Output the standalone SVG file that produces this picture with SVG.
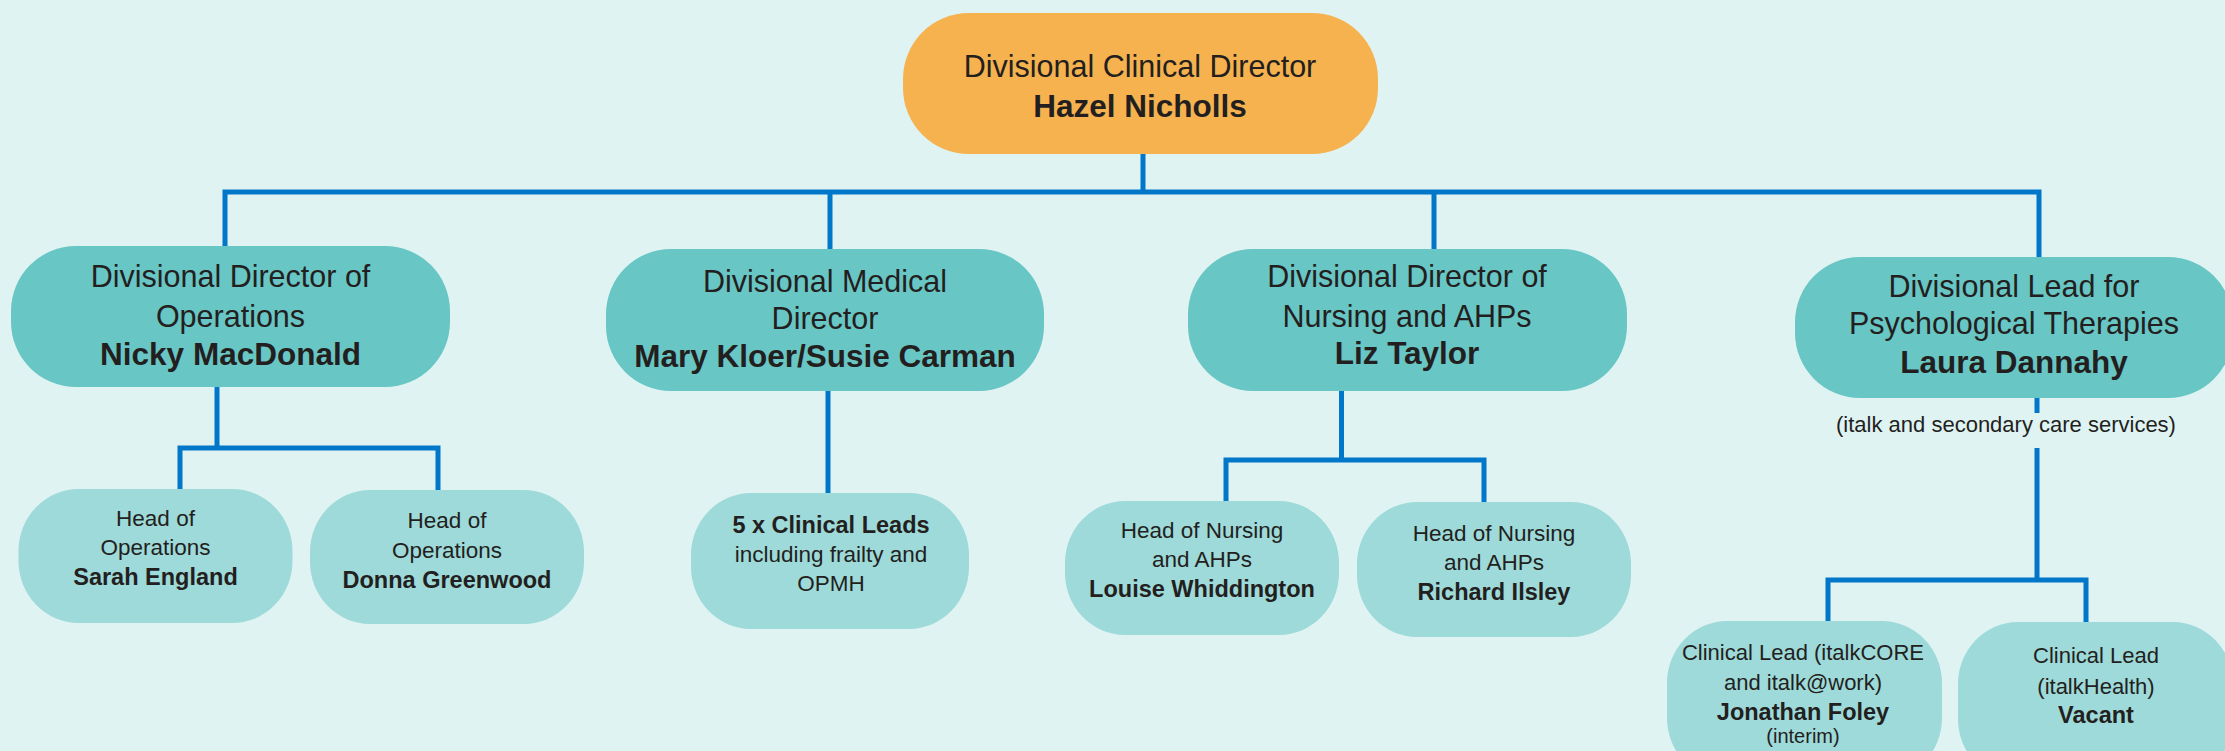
<svg xmlns="http://www.w3.org/2000/svg" width="2225" height="751" viewBox="0 0 2225 751">
<style>
.bg{fill:#E0F3F3}
.top{fill:#F5B24E}
.mid{fill:#68C6C5}
.low{fill:#9DDAD9}
.conn{fill:none;stroke:#0077C8;stroke-width:5;stroke-linejoin:miter;stroke-linecap:butt}
text{font-family:"Liberation Sans",Arial,sans-serif;fill:#231F20;text-anchor:middle}
.t1{font-size:30.5px}
.b1{font-size:31.5px;font-weight:bold}
.t2{font-size:22.5px}
.b2{font-size:23.5px;font-weight:bold}
.t3{font-size:22px}
.t4{font-size:20px}
</style>
<rect class="bg" x="0" y="0" width="2225" height="751"/>
<g id="connectors">
<path class="conn" d="M1143 154 V192"/>
<path class="conn" d="M225 246 V192 H2039 V257"/>
<path class="conn" d="M830 192 V249"/>
<path class="conn" d="M1434 192 V249"/>
<path class="conn" d="M217 387 V448"/>
<path class="conn" d="M180 490 V448 H438 V491"/>
<path class="conn" d="M828 391 V493"/>
<path class="conn" d="M1341.5 391 V460"/>
<path class="conn" d="M1226 502 V460 H1484 V503"/>
<path class="conn" d="M2037 398 V413"/>
<path class="conn" d="M2037 448 V580"/>
<path class="conn" d="M1828 622 V580 H2086 V623"/>
</g>
<g id="node-hazel">
<rect class="top" x="903" y="13" width="475" height="141" rx="66" ry="66"/>
<text class="t1" x="1140" y="77">Divisional Clinical Director</text>
<text class="b1" x="1140" y="117">Hazel Nicholls</text>
</g>
<g id="node-nicky">
<rect class="mid" x="11" y="246" width="439" height="141" rx="65" ry="65"/>
<text class="t1" x="230.5" y="287">Divisional Director of</text>
<text class="t1" x="230.5" y="327">Operations</text>
<text class="b1" x="230.5" y="365">Nicky MacDonald</text>
</g>
<g id="node-mary">
<rect class="mid" x="606" y="249" width="438" height="142" rx="65" ry="65"/>
<text class="t1" x="825" y="292">Divisional Medical</text>
<text class="t1" x="825" y="329">Director</text>
<text class="b1" x="825" y="367">Mary Kloer/Susie Carman</text>
</g>
<g id="node-liz">
<rect class="mid" x="1188" y="249" width="439" height="142" rx="65" ry="65"/>
<text class="t1" x="1407" y="287">Divisional Director of</text>
<text class="t1" x="1407" y="327">Nursing and AHPs</text>
<text class="b1" x="1407" y="364">Liz Taylor</text>
</g>
<g id="node-laura">
<rect class="mid" x="1795" y="257" width="438" height="141" rx="65" ry="65"/>
<text class="t1" x="2014" y="297">Divisional Lead for</text>
<text class="t1" x="2014" y="334">Psychological Therapies</text>
<text class="b1" x="2014" y="373">Laura Dannahy</text>
<text class="t3" x="2006" y="432">(italk and secondary care services)</text>
</g>
<g id="node-sarah">
<rect class="low" x="18.5" y="489" width="274" height="134" rx="60" ry="62"/>
<text class="t2" x="155.5" y="526">Head of</text>
<text class="t2" x="155.5" y="555">Operations</text>
<text class="b2" x="155.5" y="585">Sarah England</text>
</g>
<g id="node-donna">
<rect class="low" x="310" y="490" width="274" height="134" rx="60" ry="62"/>
<text class="t2" x="447" y="528">Head of</text>
<text class="t2" x="447" y="558">Operations</text>
<text class="b2" x="447" y="588">Donna Greenwood</text>
</g>
<g id="node-clinical-leads">
<rect class="low" x="691" y="493" width="278" height="136" rx="60" ry="62"/>
<text class="b2" x="831" y="533">5 x Clinical Leads</text>
<text class="t2" x="831" y="562">including frailty and</text>
<text class="t2" x="831" y="591">OPMH</text>
</g>
<g id="node-louise">
<rect class="low" x="1065" y="501" width="274" height="134" rx="60" ry="62"/>
<text class="t2" x="1202" y="538">Head of Nursing</text>
<text class="t2" x="1202" y="567">and AHPs</text>
<text class="b2" x="1202" y="597">Louise Whiddington</text>
</g>
<g id="node-richard">
<rect class="low" x="1357" y="502" width="274" height="135" rx="60" ry="62"/>
<text class="t2" x="1494" y="541">Head of Nursing</text>
<text class="t2" x="1494" y="570">and AHPs</text>
<text class="b2" x="1494" y="600">Richard Ilsley</text>
</g>
<g id="node-jonathan">
<rect class="low" x="1667" y="621" width="275" height="159" rx="60" ry="62"/>
<text class="t3" x="1803" y="660">Clinical Lead (italkCORE</text>
<text class="t3" x="1803" y="690">and italk@work)</text>
<text class="b2" x="1803" y="720">Jonathan Foley</text>
<text class="t4" x="1803" y="743">(interim)</text>
</g>
<g id="node-vacant">
<rect class="low" x="1958" y="622" width="275" height="159" rx="60" ry="62"/>
<text class="t3" x="2096" y="663">Clinical Lead</text>
<text class="t3" x="2096" y="694">(italkHealth)</text>
<text class="b2" x="2096" y="723">Vacant</text>
</g>
</svg>
